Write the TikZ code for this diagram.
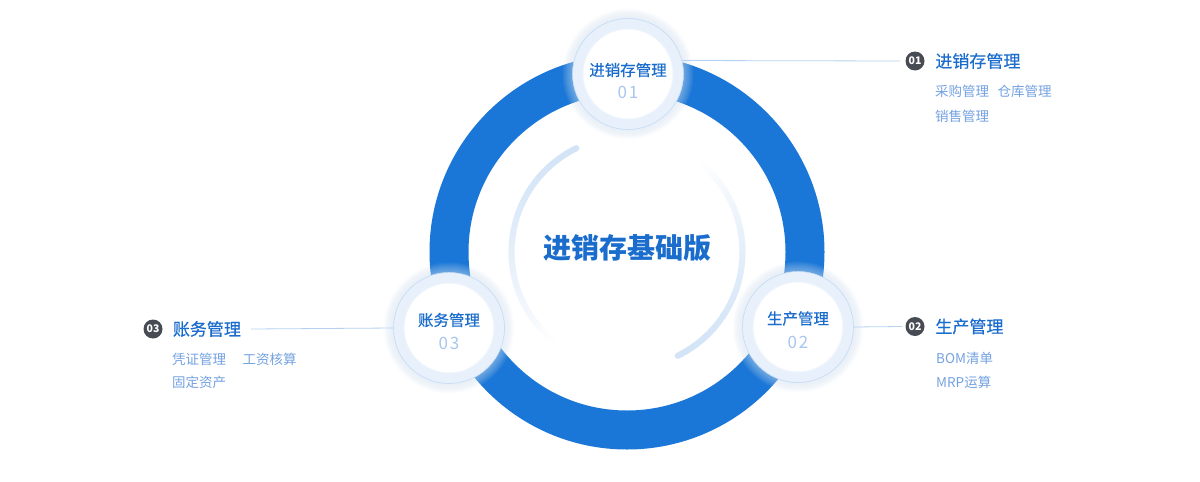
\documentclass[tikz,border=0pt]{standalone}
\usepackage{fontspec}
\setmainfont{Noto Sans CJK SC}
\newfontfamily\medfont[FakeBold=0.35]{Noto Sans CJK SC}
\usetikzlibrary{positioning}
\definecolor{cRing}{HTML}{1B77D7}
\definecolor{cTitle}{HTML}{1A6DCC}
\definecolor{cNum}{HTML}{A8C6EE}
\definecolor{cSub}{HTML}{74A2E1}
\definecolor{cBadge}{HTML}{474B54}
\definecolor{cLine}{HTML}{B6D2F2}
\definecolor{cHalo}{HTML}{E8F1FB}
\definecolor{cHaloEdge}{HTML}{C6DBF4}
\definecolor{cGlow}{HTML}{D2E3F8}
\definecolor{cArc}{HTML}{D3E4F7}
\tikzset{
  ring/.style   ={draw=cRing, line width=39pt},
  halo/.style   ={circle, minimum size=111pt, inner sep=0pt, fill=cHalo,
                  draw=cHaloEdge, line width=0.6pt},
  core/.style   ={circle, minimum size=90pt, inner sep=0pt, fill=white,
                  draw=cHalo!70!white, line width=1pt},
  hub/.style    ={font=\fontsize{28}{32}\selectfont\bfseries, text=cTitle, inner sep=0pt},
  ctitle/.style ={font=\fontsize{15.5}{18}\selectfont\medfont, text=cTitle, inner sep=0pt},
  cnum/.style   ={font=\fontsize{17}{20}\selectfont, text=cNum, inner sep=0pt},
  badge/.style  ={circle, fill=cBadge, text=white, minimum size=19pt, inner sep=0pt,
                  font=\fontsize{10.5}{12}\selectfont\bfseries},
  head/.style   ={font=\fontsize{17}{20}\selectfont\medfont, text=cTitle, inner sep=0pt, anchor=west},
  sub/.style    ={font=\fontsize{13.5}{16}\selectfont, text=cSub, inner sep=0pt, anchor=west},
  link/.style   ={draw=cLine, line width=0.8pt},
}
\begin{document}
\begin{tikzpicture}[x=1pt, y=-1pt]
\useasboundingbox[fill=white] (0,0) rectangle (1200,482);
\coordinate (c) at (627,252);
\coordinate (pt) at (628,74);
\coordinate (pr) at (798,327);
\coordinate (pl) at (449,328);

\draw[ring] (c) circle[radius=178];

\foreach \a in {0,2,...,112} {
  \pgfmathtruncatemacro\p{100*(1-(\a/114)^1.6)}
  \draw[cArc!\p!white, line width=6pt] (c) ++(-116-\a:115.5)
     arc[start angle=-116-\a, end angle=-118.5-\a, radius=115.5];
  \draw[cArc!\p!white, line width=6pt] (c) ++(64-\a:115.5)
     arc[start angle=64-\a, end angle=61.5-\a, radius=115.5];
}
\fill[cArc] (c) ++(-116:115.5) circle[radius=3];
\fill[cArc] (c) ++(64:115.5) circle[radius=3];

\node[hub] (hub) at (627,248) {进销存基础版};

\foreach \q in {pt,pr,pl}
  \foreach \k in {1,...,10}
    \fill[cGlow, opacity=0.06] (\q) circle[radius=55.5+\k];

\node[halo] (h1) at (pt) {};
\node[core] (k1) at (pt) {};
\node[ctitle] (n1) at (628,70) {进销存管理};
\node[cnum] (d1) at (628,92) {0\kern2pt 1};

\node[halo] (h2) at (pr) {};
\node[core] (k2) at (pr) {};
\node[ctitle] (n2) at (798,318.5) {生产管理};
\node[cnum] (d2) at (798,342.5) {0\kern2pt 2};

\node[halo] (h3) at (pl) {};
\node[core] (k3) at (pl) {};
\node[ctitle] (n3) at (449,320) {账务管理};
\node[cnum] (d3) at (449,343.5) {0\kern2pt 3};

\node[badge] (b1) at (915,61) {01};
\node[head, right=10.5pt of b1] (t1) {进销存管理};
\node[sub] (s11) at (935,91.5) {采购管理};
\node[sub, right=8pt of s11] (s12) {仓库管理};
\node[sub] (s13) at (935,116) {销售管理};

\node[badge] (b2) at (915,326.5) {02};
\node[head, right=10.5pt of b2] (t2) {生产管理};
\node[sub] (s21) at (936,358) {BOM清单};
\node[sub] (s22) at (936,382) {MRP运算};

\node[badge] (b3) at (153,329) {03};
\node[head, right=10pt of b3] (t3) {账务管理};
\node[sub] (s31) at (172,359.5) {凭证管理};
\node[sub, right=16pt of s31] (s32) {工资核算};
\node[sub] (s33) at (172,382) {固定资产};

\draw[link] (h1.14.6) -- ([xshift=-5pt]b1.west);
\draw[link] (h2.east) -- ([xshift=-3pt]b2.west);
\draw[link] ([xshift=10pt]t3.east) -- (h3.west);
\end{tikzpicture}
\end{document}
